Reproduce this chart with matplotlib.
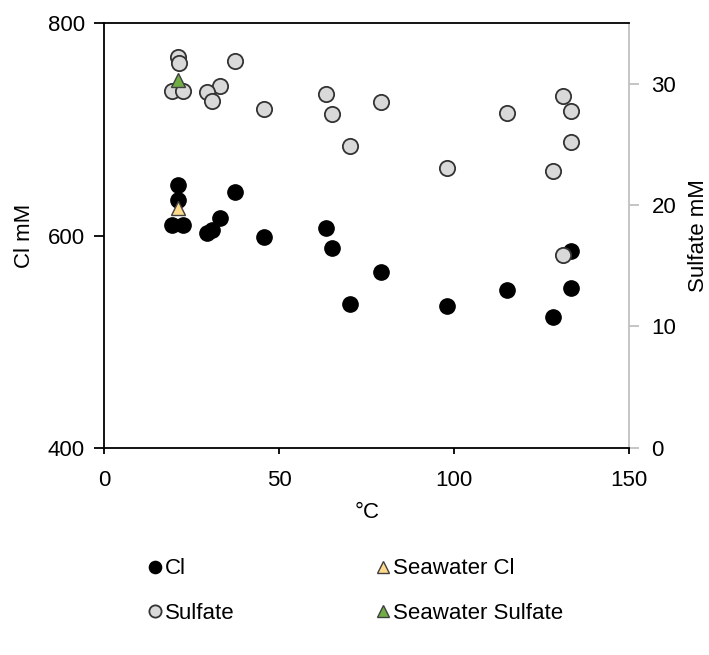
"""Cl und Sulfat gegen Temperatur, zwei y-Achsen."""

import matplotlib.pyplot as plt
from matplotlib.lines import Line2D

plt.rcParams["font.family"] = ["Liberation Sans", "DejaVu Sans"]
plt.rcParams["font.size"] = 16

# Cl (mM) gegen Temperatur (°C)
cl_temp = [19.3, 21.1, 21.1, 22.6, 37.3, 33.1, 30.7, 29.3, 45.7, 63.3,
           65.1, 79.1, 70.2, 97.8, 115.1, 133.3, 133.2, 128.2]
cl_mm = [609.9, 647.6, 633.5, 609.9, 641.3, 616.8, 605.2, 602.1, 598.9, 606.8,
         587.9, 565.3, 535.4, 533.5, 548.6, 585.3, 550.2, 523.5]

# Sulfat (mM) gegen Temperatur (°C)
so4_temp = [21.1, 21.3, 19.3, 22.6, 37.3, 33.1, 29.3, 30.7, 45.7, 63.3,
            65.1, 79.1, 70.2, 97.8, 115.1, 131.1, 133.2, 133.2, 128.2, 131.1]
so4_mm = [32.2, 31.7, 29.4, 29.4, 31.9, 29.8, 29.3, 28.6, 27.9, 29.2,
          27.5, 28.5, 24.9, 23.1, 27.6, 29.0, 27.8, 25.2, 22.8, 15.9]

# Meerwasser-Referenz
sw_temp = [21.1]
sw_cl = [625.6]
sw_so4 = [30.3]

fig = plt.figure(figsize=(7.09, 6.55), dpi=100)
ax = fig.add_axes([0.1471, 0.3165, 0.7405, 0.6479])
ax2 = ax.twinx()

# Alles auf ax zeichnen, damit Sulfat ueber Cl liegt
ax.set_zorder(2)
ax.patch.set_visible(False)

ms = 11
ax.plot(cl_temp, cl_mm, "o", ms=ms, mfc="black", mec="black", mew=1, zorder=3)
ax.plot(sw_temp, sw_cl, "^", ms=10, mfc="#ffd98a", mec="#404040", mew=1, zorder=4)
ax.plot(so4_temp, so4_mm, "o", ms=ms, mfc="#d9d9d9", mec="#333333", mew=1.3,
        transform=ax2.transData, zorder=5)
ax.plot(sw_temp, sw_so4, "^", ms=10, mfc="#70ad47", mec="#404040", mew=1,
        transform=ax2.transData, zorder=6)

ax.set_xlim(0, 150)
ax.set_ylim(400, 800)
ax2.set_ylim(0, 35)
ax.set_xticks([0, 50, 100, 150])
ax.set_yticks([400, 600, 800])
ax2.set_yticks([0, 10, 20, 30])

for s in ["top", "left", "bottom"]:
    ax.spines[s].set_color("black")
    ax.spines[s].set_linewidth(1.3)
ax.spines["right"].set_visible(False)
ax2.spines["right"].set_color("#c0c0c0")
ax2.spines["right"].set_linewidth(1.3)
for s in ["top", "left", "bottom"]:
    ax2.spines[s].set_visible(False)

ax.tick_params(axis="y", direction="out", length=7, width=1.3, pad=7)
ax.tick_params(axis="x", direction="out", length=4, width=1.3, pad=12)
ax2.tick_params(axis="y", direction="out", length=7, width=1.3, color="#c0c0c0", pad=9)

ax.set_xlabel("°C", labelpad=8)
ax.set_ylabel("Cl mM", labelpad=9)
ax2.set_ylabel("Sulfate mM", labelpad=8)

handles = [
    Line2D([], [], ls="", marker="o", ms=ms, mfc="black", mec="black"),
    Line2D([], [], ls="", marker="o", ms=ms, mfc="#d9d9d9", mec="#333333", mew=1.3),
    Line2D([], [], ls="", marker="^", ms=10, mfc="#ffd98a", mec="#404040"),
    Line2D([], [], ls="", marker="^", ms=10, mfc="#70ad47", mec="#404040"),
]
labels = ["Cl", "Sulfate", "Seawater Cl", "Seawater Sulfate"]
fig.legend(handles, labels, ncol=2, loc="upper left", bbox_to_anchor=(0.196, 0.161),
           frameon=False, markerscale=0.8, handlelength=0.65, handletextpad=0.12,
           columnspacing=6.36, labelspacing=1.05, borderaxespad=0)

fig.savefig("out.png", dpi=100)
